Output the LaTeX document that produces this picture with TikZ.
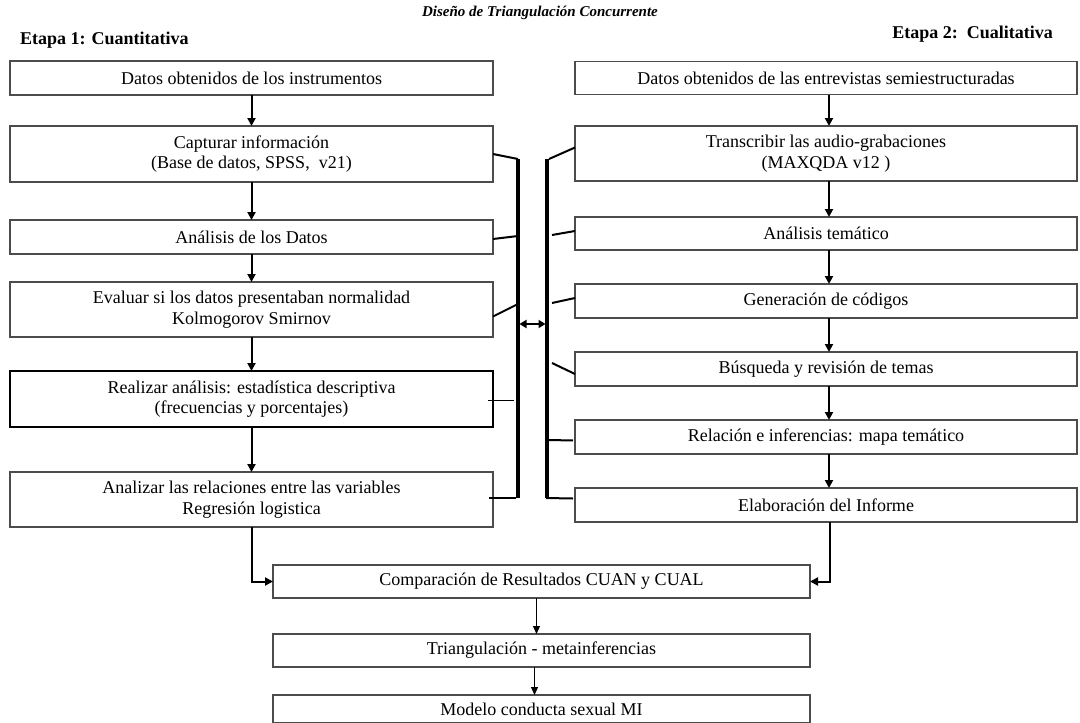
\documentclass[tikz,border=0pt]{standalone}
\usepackage{fontspec}
\setmainfont{Liberation Serif}
\usetikzlibrary{arrows.meta,calc}

\begin{document}
\begin{tikzpicture}[x=1pt,y=-1pt,
  box/.style={draw=black!70, line width=1.1pt, inner sep=0pt, outer sep=0pt,
    align=center, font=\fontsize{18}{20.5}\selectfont},
  boldbox/.style={box, draw=black, line width=2pt},
  flow/.style={line width=2pt, -{Triangle[length=8pt,width=8pt]}},
  thinflow/.style={line width=1.2pt, -{Triangle[length=8pt,width=7pt]}},
  bar/.style={line width=3.3pt},
  tick/.style={line width=2pt},
  thintick/.style={line width=1pt},
  heading/.style={font=\fontsize{18}{21}\selectfont\bfseries, inner sep=0pt}]

% page frame
\useasboundingbox (0,0) rectangle (1080,723);

% titles
\node[inner sep=0pt, font=\fontsize{15}{18}\selectfont\bfseries\itshape] (title) at (540,13) {Diseño de Triangulación Concurrente};
\node[heading, anchor=west] (etapa1) at (20,40) {Etapa 1: Cuantitativa};
\node[heading, anchor=east] (etapa2) at (1053,34) {Etapa 2:\ \ Cualitativa};

% quantitative column
\node[box, minimum width=483, minimum height=34] (L1) at (251.5,78) {Datos obtenidos de los instrumentos};
\node[box, minimum width=483, minimum height=56] (L2) at (251.5,154) {Capturar información\\(Base de datos, SPSS,\ \ v21)};
\node[box, minimum width=483, minimum height=34] (L3) at (251.5,237) {Análisis de los Datos};
\node[box, minimum width=483, minimum height=55] (L4) at (251.5,309.5) {Evaluar si los datos presentaban normalidad\\Kolmogorov Smirnov};
\node[boldbox, minimum width=483, minimum height=56] (L5) at (251.5,399) {Realizar análisis: estadística descriptiva\\(frecuencias y porcentajes)};
\node[box, minimum width=483, minimum height=55] (L6) at (251.5,499.5) {Analizar las relaciones entre las variables\\Regresión logistica};

% qualitative column
\node[box, minimum width=502, minimum height=33] (R1) at (826,78) {Datos obtenidos de las entrevistas semiestructuradas};
\node[box, minimum width=502, minimum height=55] (R2) at (826,153.5) {Transcribir las audio-grabaciones\\(MAXQDA v12 )};
\node[box, minimum width=502, minimum height=33] (R3) at (826,233.5) {Análisis temático};
\node[box, minimum width=502, minimum height=34] (R4) at (826,301) {Generación de códigos};
\node[box, minimum width=502, minimum height=34] (R5) at (826,369) {Búsqueda y revisión de temas};
\node[box, minimum width=502, minimum height=34] (R6) at (826,437) {Relación e inferencias: mapa temático};
\node[box, minimum width=502, minimum height=34] (R7) at (826,505) {Elaboración del Informe};

% merged steps
\node[box, minimum width=537, minimum height=33] (B1) at (541.5,581.5) {Comparación de Resultados CUAN y CUAL};
\node[box, minimum width=537, minimum height=33] (B2) at (541.5,650.5) {Triangulación - metainferencias};
\node[box, minimum width=537, minimum height=28] (B3) at (541.5,709) {Modelo conducta sexual MI};

% flow inside the quantitative column
\draw[flow] (L1.south) -- (L2.north);
\draw[flow] (L2.south) -- (L3.north);
\draw[flow] (L3.south) -- (L4.north);
\draw[flow] (L4.south) -- (L5.north);
\draw[flow] (L5.south) -- (L6.north);

% flow inside the qualitative column
\foreach \a/\b in {R1/R2,R2/R3,R3/R4,R4/R5,R5/R6,R6/R7}
  \draw[flow] ([xshift=3pt]\a.south) -- ([xshift=3pt]\b.north);

% both columns feed the comparison
\draw[flow] (L6.south) |- (B1.west);
\draw[flow] ([xshift=4pt]R7.south) |- (B1.east);
\draw[thinflow] ([xshift=-5pt]B1.south) -- ([xshift=-5pt]B2.north);
\draw[thinflow] ([xshift=-7pt]B2.south) -- ([xshift=-7pt]B3.north);

% brackets joining the two columns
\coordinate (lbT) at (518,159);
\coordinate (lbB) at (518,498);
\coordinate (rbT) at (547,159);
\coordinate (rbB) at (547,498);
\draw[bar] (lbT) -- (lbB);
\draw[bar] (rbT) -- (rbB);

\coordinate (l3) at (518,236);
\coordinate (l4) at (518,304);
\coordinate (l5a) at (488,400);
\coordinate (l5b) at (514,400);
\coordinate (l6a) at (489,498);
\coordinate (l6b) at (516,498);
\draw[tick] (L2.east) -- (lbT);
\draw[tick] ([yshift=-2pt]L3.east) -- (l3);
\draw[tick] ([yshift=-7pt]L4.east) -- (l4);
\draw[thintick] (l5a) -- (l5b);
\draw[tick] (l6a) -- (l6b);

\coordinate (r2) at (549,159);
\coordinate (r3) at (552,235);
\coordinate (r4) at (552,303);
\coordinate (r5) at (552,363);
\coordinate (r6) at (549,440);
\coordinate (r7) at (546,498);
\draw[tick] (r2) -- ([yshift=6pt]R2.west);
\draw[tick] (r3) -- ([yshift=2.5pt]R3.west);
\draw[tick] (r4) -- ([yshift=3pt]R4.west);
\draw[tick] (r5) -- ([yshift=-5pt]R5.west);
\draw[tick] (r6) -- (573,440.5);
\draw[tick] (r7) -- (573,498.5);

% exchange between the two strands
\coordinate (exL) at (519.5,324);
\coordinate (exR) at (545.5,324);
\draw[line width=1.8pt, {Triangle[length=7pt,width=8pt]}-{Triangle[length=7pt,width=8pt]}] (exL) -- (exR);
\end{tikzpicture}
\end{document}
